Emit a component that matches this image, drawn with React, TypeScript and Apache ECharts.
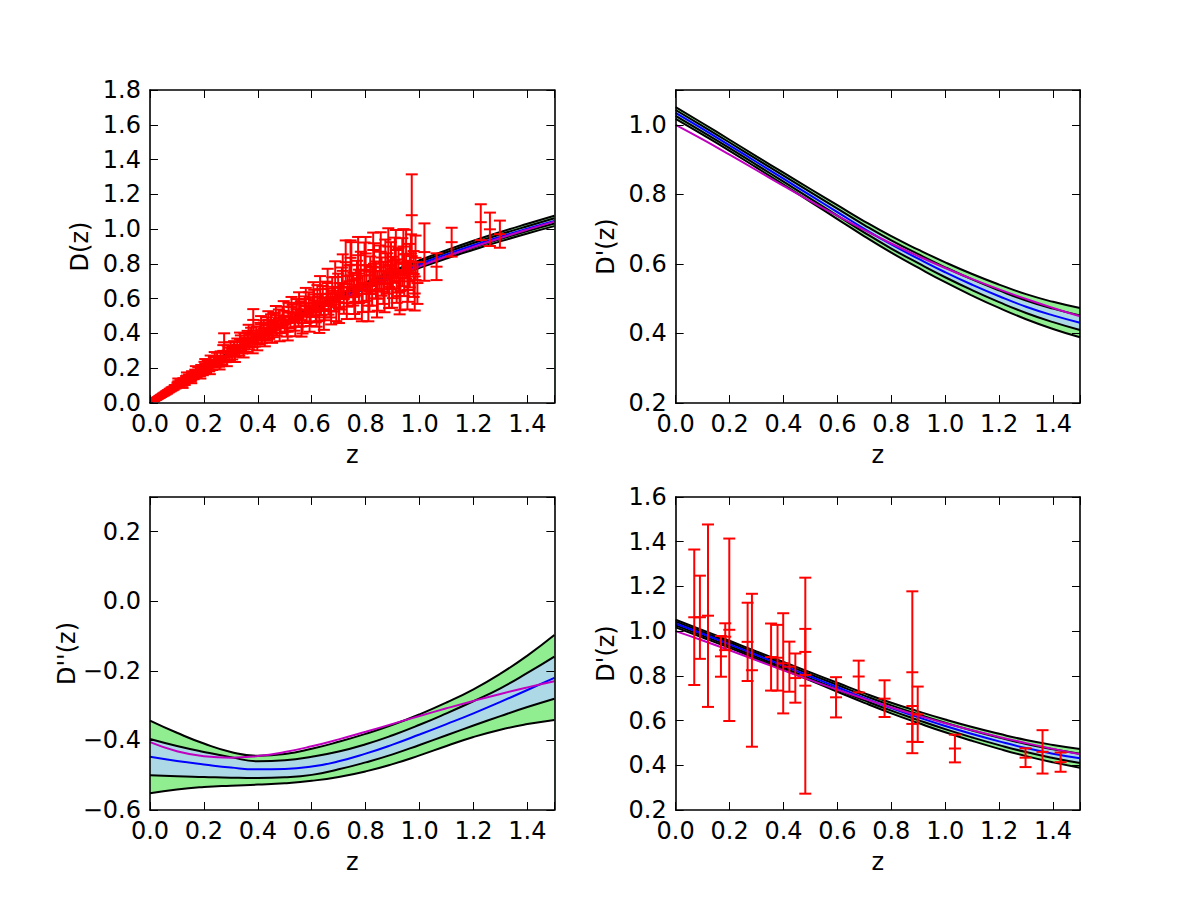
import React, { useEffect, useRef } from "react";
import * as echarts from "echarts";

// ---------------- data ----------------
const zGrid = [0, 0.1, 0.2, 0.3, 0.4, 0.5, 0.6, 0.7, 0.8, 0.9, 1.0, 1.1, 1.2, 1.3, 1.4, 1.5];

// D(z): reconstruction mean, 1-sigma, model
const dMean = [0, 0.1011, 0.1976, 0.2893, 0.3762, 0.4583, 0.5356, 0.6081, 0.676, 0.7395, 0.7991, 0.8549, 0.9072, 0.9564, 1.0029, 1.0471];
const dSigma = [0, 0.002, 0.003, 0.004, 0.005, 0.006, 0.007, 0.008, 0.009, 0.01, 0.011, 0.012, 0.013, 0.0135, 0.014, 0.015];
const dModel = [0, 0.0979, 0.1915, 0.2807, 0.3654, 0.4457, 0.5216, 0.5934, 0.6612, 0.7253, 0.7858, 0.843, 0.8972, 0.9485, 0.9971, 1.0432];

// D'(z)
const d1Mean = [1.034, 0.988, 0.941, 0.893, 0.845, 0.797, 0.749, 0.701, 0.656, 0.615, 0.576, 0.54, 0.507, 0.477, 0.452, 0.431];
const d1Sigma = [0.0085, 0.0082, 0.008, 0.0082, 0.0086, 0.0092, 0.01, 0.0108, 0.0118, 0.013, 0.0143, 0.0155, 0.0168, 0.018, 0.0195, 0.021];
const d1Model = [1.0, 0.9581, 0.9142, 0.8693, 0.8245, 0.7806, 0.738, 0.6973, 0.6587, 0.6223, 0.5882, 0.5564, 0.5267, 0.4991, 0.4734, 0.4495];

// D''(z): mean, 1-sigma and 2-sigma bounds, model
const d2Mean = [-0.447, -0.459, -0.469, -0.478, -0.483, -0.482, -0.475, -0.46, -0.438, -0.412, -0.383, -0.353, -0.322, -0.289, -0.255, -0.22];
const d2Up2 = [-0.343, -0.378, -0.409, -0.433, -0.444, -0.439, -0.424, -0.404, -0.381, -0.355, -0.325, -0.291, -0.253, -0.208, -0.156, -0.097];
const d2Up1 = [-0.396, -0.416, -0.433, -0.448, -0.46, -0.457, -0.447, -0.432, -0.411, -0.385, -0.355, -0.322, -0.287, -0.25, -0.206, -0.159];
const d2Lo1 = [-0.5, -0.503, -0.505, -0.507, -0.508, -0.506, -0.499, -0.483, -0.463, -0.44, -0.413, -0.385, -0.357, -0.33, -0.304, -0.28];
const d2Lo2 = [-0.552, -0.541, -0.534, -0.53, -0.527, -0.523, -0.516, -0.505, -0.489, -0.468, -0.443, -0.416, -0.39, -0.369, -0.353, -0.341];
const d2Model = [-0.405, -0.431, -0.4456, -0.4497, -0.445, -0.4334, -0.4168, -0.3969, -0.3751, -0.3524, -0.3297, -0.3076, -0.2864, -0.2663, -0.2475, -0.2299];

// Supernova D(z) points
const snZ = [
  0.011, 0.014, 0.015, 0.017, 0.019, 0.021, 0.022, 0.024, 0.026, 0.027, 0.029, 0.031, 0.033, 0.035, 0.037, 0.039, 0.041,
  0.043, 0.046, 0.049, 0.051, 0.054, 0.057, 0.06, 0.063, 0.066, 0.07, 0.073, 0.077, 0.08, 0.084, 0.088, 0.092, 0.096,
  0.102, 0.108, 0.113, 0.118, 0.124, 0.129, 0.134, 0.14, 0.145, 0.151, 0.156, 0.162, 0.168, 0.173, 0.179, 0.185, 0.19,
  0.196, 0.202, 0.208, 0.214, 0.219, 0.225, 0.231, 0.237, 0.243, 0.249, 0.256, 0.262, 0.268, 0.275, 0.281, 0.288, 0.294, 0.299,
  0.305, 0.312, 0.318, 0.324, 0.331, 0.337, 0.343, 0.35, 0.356, 0.362, 0.368, 0.375, 0.383, 0.389, 0.395, 0.402, 0.409,
  0.415, 0.422, 0.428, 0.435, 0.442, 0.449, 0.456, 0.463, 0.47, 0.478, 0.485, 0.492, 0.5, 0.507, 0.514, 0.521, 0.529,
  0.536, 0.544, 0.551, 0.559, 0.566, 0.574, 0.581, 0.589, 0.596,
  0.603, 0.609, 0.615, 0.621, 0.628, 0.634, 0.641, 0.648, 0.655, 0.662, 0.669, 0.676, 0.684, 0.691, 0.698, 0.705, 0.712,
  0.719, 0.726, 0.733, 0.74, 0.747, 0.754, 0.761, 0.768, 0.775, 0.782, 0.789, 0.796, 0.803, 0.81, 0.817, 0.824, 0.831,
  0.838, 0.845, 0.852, 0.859, 0.866, 0.873, 0.88, 0.887, 0.894, 0.901, 0.908, 0.915, 0.922, 0.929, 0.936, 0.943, 0.95,
  0.957, 0.964, 0.971, 0.978, 0.985, 0.992,
  1.018, 1.063, 1.119, 1.227, 1.261, 1.298,
  0.105, 0.121, 0.137, 0.153, 0.17, 0.187, 0.205, 0.222, 0.24, 0.258, 0.272, 0.285,
  0.315, 0.334, 0.347, 0.366, 0.381, 0.398, 0.412, 0.426, 0.439, 0.453, 0.467, 0.481, 0.496, 0.511, 0.525, 0.539,
  0.553, 0.562, 0.578, 0.592, 0.606, 0.618, 0.631, 0.645, 0.659, 0.672, 0.687, 0.701, 0.715, 0.73, 0.744, 0.758,
  0.772, 0.786, 0.8, 0.814, 0.828, 0.842, 0.856, 0.87, 0.884, 0.898, 0.912, 0.926, 0.94, 0.955, 0.968, 0.982,
];
const snD = [
  0.0112, 0.0137, 0.0158, 0.0166, 0.0195, 0.0203, 0.0231, 0.0236, 0.0252, 0.0281, 0.0284, 0.0316, 0.0322, 0.0361, 0.0355, 0.0402, 0.0398,
  0.0441, 0.0447, 0.0502, 0.0489, 0.0551, 0.0548, 0.0617, 0.0606, 0.0672, 0.0685, 0.0744, 0.0752, 0.0811, 0.0829, 0.0862, 0.0935, 0.0941,
  0.108, 0.103, 0.121, 0.112, 0.131, 0.118, 0.142, 0.135, 0.151, 0.139, 0.166, 0.152, 0.174, 0.16, 0.186, 0.171, 0.199,
  0.178, 0.215, 0.192, 0.223, 0.205, 0.248, 0.21, 0.241, 0.226, 0.262, 0.232, 0.271, 0.247, 0.349, 0.262, 0.301, 0.271, 0.318,
  0.281, 0.322, 0.297, 0.335, 0.302, 0.351, 0.318, 0.362, 0.329, 0.378, 0.341, 0.392, 0.478, 0.361, 0.401, 0.372, 0.418,
  0.381, 0.43, 0.396, 0.447, 0.409, 0.462, 0.42, 0.471, 0.433, 0.488, 0.446, 0.502, 0.455, 0.43, 0.521, 0.476, 0.515,
  0.468, 0.54, 0.489, 0.531, 0.46, 0.556, 0.512, 0.575, 0.498,
  0.551, 0.59, 0.522, 0.612, 0.471, 0.566, 0.601, 0.54, 0.628, 0.583, 0.56, 0.645, 0.597, 0.551, 0.662, 0.614, 0.689,
  0.598, 0.81, 0.642, 0.7, 0.795, 0.655, 0.582, 0.718, 0.671, 0.76, 0.628, 0.793, 0.69, 0.56, 0.735, 0.672, 0.801,
  0.708, 0.645, 0.781, 0.727, 0.69, 0.812, 0.745, 0.668, 0.79, 0.722, 0.821, 0.701, 0.763, 0.644, 0.81, 0.735, 0.856,
  0.7, 0.79, 1.08, 0.742, 0.835, 0.69,
  0.868, 0.784, 0.925, 1.04, 0.999, 0.971,
  0.125, 0.101, 0.158, 0.13, 0.19, 0.16, 0.228, 0.188, 0.265, 0.218, 0.3, 0.24,
  0.268, 0.365, 0.296, 0.405, 0.322, 0.344, 0.452, 0.365, 0.478, 0.39, 0.505, 0.402, 0.53, 0.41, 0.552, 0.438,
  0.575, 0.44, 0.598, 0.47, 0.625, 0.505, 0.655, 0.493, 0.69, 0.53, 0.725, 0.545, 0.76, 0.575, 0.835, 0.61,
  0.85, 0.58, 0.86, 0.64, 0.88, 0.6, 0.87, 0.64, 0.9, 0.66, 0.88, 0.615, 0.9, 0.65, 0.86, 0.63,
];
const snErr = [
  0.0011, 0.0016, 0.0014, 0.0019, 0.0018, 0.0024, 0.0021, 0.0027, 0.0025, 0.0031, 0.0028, 0.0034, 0.0036, 0.0033, 0.0041, 0.0038, 0.0045,
  0.0042, 0.0051, 0.0047, 0.0056, 0.0053, 0.0061, 0.0058, 0.0066, 0.0071, 0.0068, 0.0077, 0.0074, 0.0083, 0.0088, 0.0085, 0.0096, 0.0092,
  0.01, 0.012, 0.011, 0.013, 0.012, 0.014, 0.013, 0.015, 0.014, 0.016, 0.017, 0.015, 0.018, 0.016, 0.019, 0.017, 0.02,
  0.018, 0.022, 0.019, 0.021, 0.023, 0.025, 0.02, 0.024, 0.022, 0.027, 0.023, 0.026, 0.025, 0.052, 0.027, 0.03, 0.028, 0.031,
  0.03, 0.034, 0.031, 0.036, 0.029, 0.038, 0.033, 0.04, 0.035, 0.037, 0.032, 0.041, 0.062, 0.036, 0.039, 0.035, 0.043,
  0.037, 0.045, 0.038, 0.046, 0.04, 0.048, 0.041, 0.047, 0.044, 0.05, 0.042, 0.052, 0.045, 0.048, 0.055, 0.046, 0.05,
  0.052, 0.058, 0.049, 0.054, 0.06, 0.057, 0.051, 0.062, 0.055,
  0.056, 0.061, 0.058, 0.066, 0.068, 0.06, 0.072, 0.064, 0.07, 0.075, 0.068, 0.078, 0.071, 0.08, 0.082, 0.076, 0.09,
  0.085, 0.125, 0.088, 0.092, 0.13, 0.094, 0.098, 0.1, 0.096, 0.11, 0.105, 0.13, 0.102, 0.09, 0.108, 0.112, 0.118,
  0.106, 0.114, 0.125, 0.11, 0.12, 0.128, 0.116, 0.122, 0.135, 0.119, 0.13, 0.125, 0.128, 0.11, 0.138, 0.12, 0.14,
  0.118, 0.125, 0.235, 0.132, 0.128, 0.12,
  0.165, 0.077, 0.083, 0.103, 0.096, 0.078,
  0.016, 0.014, 0.018, 0.016, 0.022, 0.019, 0.025, 0.022, 0.028, 0.025, 0.033, 0.028,
  0.032, 0.04, 0.034, 0.045, 0.036, 0.041, 0.048, 0.039, 0.05, 0.044, 0.053, 0.047, 0.056, 0.05, 0.058, 0.054,
  0.062, 0.058, 0.064, 0.06, 0.07, 0.066, 0.075, 0.072, 0.082, 0.078, 0.09, 0.085, 0.095, 0.092, 0.1, 0.098,
  0.105, 0.11, 0.095, 0.115, 0.1, 0.108, 0.112, 0.118, 0.105, 0.112, 0.115, 0.105, 0.1, 0.112, 0.11, 0.098,
];

// D'(z) points from H(z)
const hzZ = [0.069, 0.09, 0.12, 0.168, 0.184, 0.199, 0.267, 0.283, 0.354, 0.378, 0.399, 0.422, 0.444, 0.481, 0.481, 0.595, 0.679, 0.775, 0.878, 0.878, 0.898, 1.036, 1.298, 1.361, 1.428];
const hzD1 = [1.062, 1.062, 1.069, 0.887, 0.975, 1.006, 0.952, 0.825, 0.884, 0.881, 0.856, 0.841, 0.79, 0.756, 0.907, 0.704, 0.797, 0.698, 0.816, 0.585, 0.628, 0.475, 0.434, 0.46, 0.414];
const hzErr = [0.303, 0.186, 0.408, 0.091, 0.06, 0.408, 0.175, 0.342, 0.15, 0.147, 0.224, 0.112, 0.11, 0.483, 0.103, 0.09, 0.071, 0.082, 0.362, 0.08, 0.124, 0.062, 0.042, 0.097, 0.043];

// ---------------- layout / style ----------------
const FONT = "DejaVu Sans";
const FS = 24;
const W = 404.35;
const H = 313.04;
const LW = 2;

const band = (mean: number[], sigma: number[], k: number) => mean.map((m, i) => m + k * sigma[i]);

const panels = [
  {
    left: 150, top: 90, ymin: 0, ymax: 1.8, yname: "D(z)", mean: dMean, model: dModel,
    bounds: [band(dMean, dSigma, 2), band(dMean, dSigma, 1), band(dMean, dSigma, -1), band(dMean, dSigma, -2)],
    pz: snZ, pv: snD, pe: snErr,
  },
  {
    left: 675.65, top: 90, ymin: 0.2, ymax: 1.1, yname: "D'(z)", mean: d1Mean, model: d1Model,
    bounds: [band(d1Mean, d1Sigma, 2), band(d1Mean, d1Sigma, 1), band(d1Mean, d1Sigma, -1), band(d1Mean, d1Sigma, -2)],
    pz: null, pv: null, pe: null,
  },
  {
    left: 150, top: 496.96, ymin: -0.6, ymax: 0.3, yname: "D''(z)", mean: d2Mean, model: d2Model,
    bounds: [d2Up2, d2Up1, d2Lo1, d2Lo2],
    pz: null, pv: null, pe: null,
  },
  {
    left: 675.65, top: 496.96, ymin: 0.2, ymax: 1.6, yname: "D'(z)", mean: d1Mean, model: d1Model,
    bounds: [band(d1Mean, d1Sigma, 2), band(d1Mean, d1Sigma, 1), band(d1Mean, d1Sigma, -1), band(d1Mean, d1Sigma, -2)],
    pz: hzZ, pv: hzD1, pe: hzErr,
  },
];
const fills = ["#90ee90", "#add8e6", "#90ee90", "#ffffff"];

const fmt = (v: number) => {
  const k = v / 0.2;
  if (Math.abs(k - Math.round(k)) > 1e-6) return "";
  if (Math.abs(v) < 1e-9) return "0.0";
  return v.toFixed(1).replace("-", "\u2212");
};

function buildOption() {
  const grid: any[] = [];
  const xAxis: any[] = [];
  const yAxis: any[] = [];
  const series: any[] = [];
  const axisLine = { show: true, onZero: false, lineStyle: { color: "#000", width: 1.6 } };
  const axisTick = { show: true, inside: true, length: 8, lineStyle: { color: "#000", width: 1 } };
  const labelStyle = { color: "#000", fontSize: FS, fontFamily: FONT };

  panels.forEach((p, g) => {
    grid.push({ left: p.left, top: p.top, width: W, height: H, containLabel: false });
    const xBase = { type: "value", gridIndex: g, min: 0, max: 1.5, interval: 0.2, splitLine: { show: false }, axisLine, axisTick, z: 5 };
    xAxis.push({
      ...xBase,
      position: "bottom",
      axisLabel: { ...labelStyle, margin: 9, formatter: fmt },
      name: "z",
      nameLocation: "middle",
      nameGap: 40,
      nameTextStyle: labelStyle,
    });
    xAxis.push({ ...xBase, position: "top", axisLabel: { show: false } });
    const yBase = { type: "value", gridIndex: g, min: p.ymin, max: p.ymax, interval: 0.2, splitLine: { show: false }, axisLine, axisTick, z: 5 };
    yAxis.push({
      ...yBase,
      position: "left",
      axisLabel: { ...labelStyle, margin: 9, formatter: fmt },
      name: p.yname,
      nameLocation: "middle",
      nameRotate: 90,
      nameGap: 58,
      nameTextStyle: labelStyle,
    });
    yAxis.push({ ...yBase, position: "right", axisLabel: { show: false } });

    const xi = 2 * g;
    const yi = 2 * g;
    p.bounds.forEach((arr, k) => {
      series.push({
        type: "line",
        xAxisIndex: xi,
        yAxisIndex: yi,
        data: zGrid.map((z, i) => [z, arr[i]]),
        smooth: true,
        symbol: "none",
        lineStyle: { color: "#000", width: LW },
        areaStyle: { color: fills[k], opacity: 1, origin: "start" },
        z: 2,
        silent: true,
      });
    });
    series.push({
      type: "line",
      xAxisIndex: xi,
      yAxisIndex: yi,
      data: zGrid.map((z, i) => [z, p.mean[i]]),
      smooth: true,
      symbol: "none",
      lineStyle: { color: "#0000ff", width: LW },
      z: 2,
      silent: true,
    });
    series.push({
      type: "line",
      xAxisIndex: xi,
      yAxisIndex: yi,
      data: zGrid.map((z, i) => [z, p.model[i]]),
      smooth: true,
      symbol: "none",
      lineStyle: { color: "#bf00bf", width: LW },
      z: 2,
      silent: true,
    });
    if (p.pz) {
      const pts = p.pz.map((z, i) => [z, (p.pv as number[])[i], (p.pe as number[])[i]]);
      series.push({
        type: "custom",
        xAxisIndex: xi,
        yAxisIndex: yi,
        dimensions: ["z", "v", "e"],
        encode: { x: 0, y: 1 },
        data: pts,
        clip: true,
        z: 3,
        silent: true,
        renderItem: (params: any, api: any) => {
          const x = api.value(0);
          const y = api.value(1);
          const e = api.value(2);
          const a = api.coord([x, y + e]);
          const m = api.coord([x, y]);
          const b = api.coord([x, y - e]);
          const hw = 6;
          const st = { stroke: "#ff0000", lineWidth: 2 };
          const cap = (q: number[]) => ({ type: "line", shape: { x1: q[0] - hw, y1: q[1], x2: q[0] + hw, y2: q[1] }, style: st });
          return {
            type: "group",
            children: [
              { type: "line", shape: { x1: a[0], y1: a[1], x2: b[0], y2: b[1] }, style: st },
              cap(a),
              cap(m),
              cap(b),
            ],
          };
        },
      });
    }
  });

  return {
    animation: false,
    backgroundColor: "#ffffff",
    textStyle: { fontFamily: FONT },
    grid,
    xAxis,
    yAxis,
    series,
  };
}

export default function App() {
  const ref = useRef<HTMLDivElement>(null);
  useEffect(() => {
    if (!ref.current) return;
    const chart = echarts.init(ref.current, null, { renderer: "svg" });
    chart.setOption(buildOption() as any);
    return () => chart.dispose();
  }, []);
  return <div ref={ref} style={{ position: "absolute", left: 0, top: 0, width: 1200, height: 900 }} />;
}
